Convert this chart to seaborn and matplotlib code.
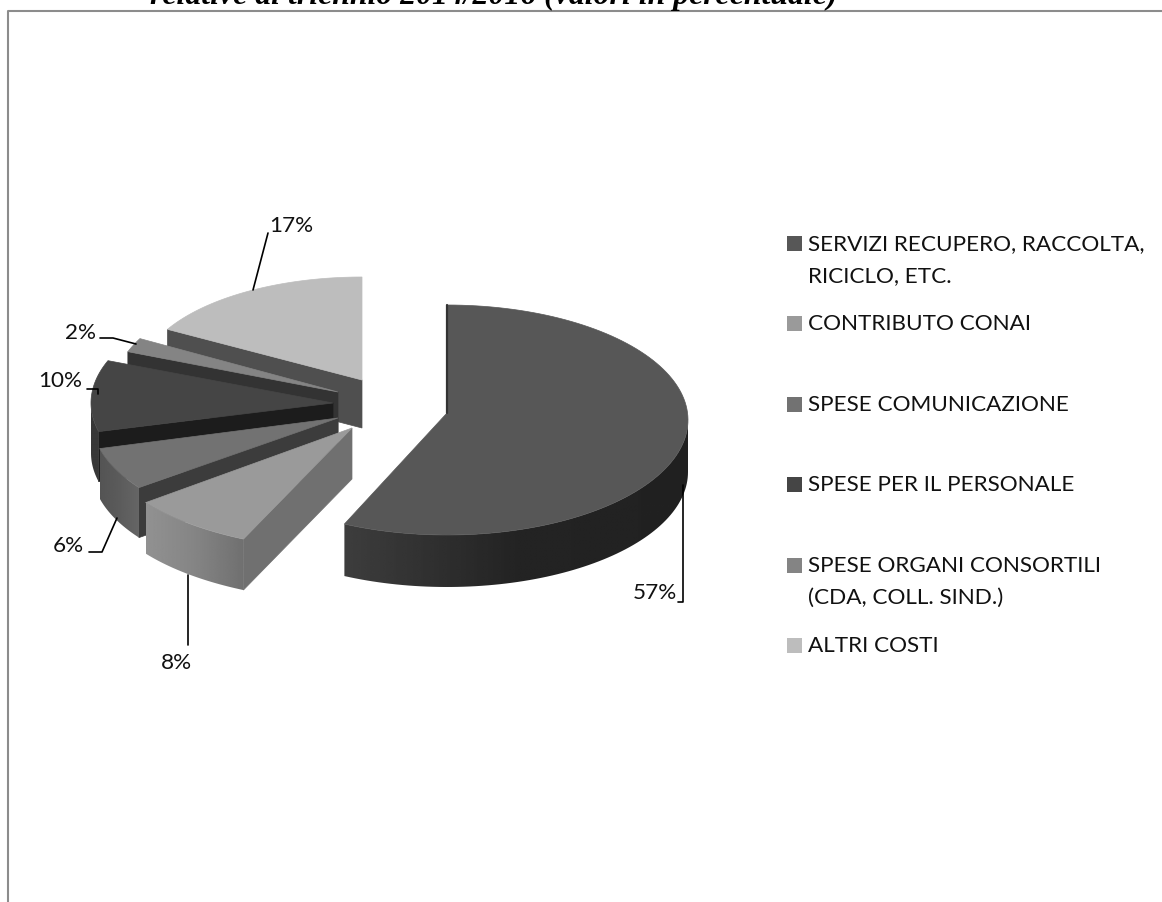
import numpy as np
import seaborn as sns
import matplotlib
matplotlib.use('Agg')
import matplotlib.pyplot as plt
from matplotlib.patches import Polygon, Rectangle

# values
categories = ['SERVIZI RECUPERO, RACCOLTA,\nRICICLO, ETC.', 'CONTRIBUTO CONAI', 'SPESE COMUNICAZIONE',
              'SPESE PER IL PERSONALE', 'SPESE ORGANI CONSORTILI\n(CDA, COLL. SIND.)', 'ALTRI COSTI']
values = [57, 8, 6, 10, 2, 17]
pct_labels = ['57%', '8%', '6%', '10%', '2%', '17%']

# look of the fake 3D pie, pixel units
apex = [(447, 413), (352, 428), (338, 418), (333, 403), (338, 392), (362, 380)]
radius_x = [241, 255, 246, 242, 226, 222]
radius_y = [115, 115, 115, 115, 115, 101]
rim_shift = [7, 7, 2, 0, 2, -2]  # ellipse centre sits a bit below the apex
depth = [52, 51, 50, 50, 50, 48]
top_grey = ['#575757', '#9a9a9a', '#727272', '#454545', '#848484', '#bdbdbd']
face_grey = ['#3a3a3a', '#707070', '#3c3c3c', '#1c1c1c', '#333333', '#4f4f4f']
side_stops = [(0.13, 0.14, 0.24), (0.44, 0.52, 0.57), (0.40, 0.36, 0.33),
              (0.22, 0.22, 0.22), (0.3, 0.3, 0.3), (0.3, 0.3, 0.3)]

sns.set_theme(style='white')
plt.rcParams['font.family'] = ['Lato', 'DejaVu Sans']

fig = plt.figure(figsize=(11.62, 9.02), dpi=100)
ax = fig.add_axes([0, 0, 1, 1])
ax.axis('off')


def rim(i, th):
    # th in degrees, clockwise from 12 o'clock
    th = np.radians(th)
    return apex[i][0] + radius_x[i] * np.sin(th), apex[i][1] + rim_shift[i] - radius_y[i] * np.cos(th)


# frame, only left and top show
ax.plot([8, 8, 1162], [902, 11, 11], color='#8c8c8c', lw=1.5, zorder=1)

# title, cut off by the top of the page
ax.text(150, 4, 'relative al triennio 2014/2016 (valori in percentuale)', family='Liberation Serif',
        style='italic', weight='bold', fontsize=22.9, color='black', va='baseline', ha='left', zorder=5)

edges = np.cumsum([0] + values) / sum(values) * 360
z = 2
# back slices first, main slice last
for i in [5, 4, 3, 2, 1, 0]:
    t0, t1 = edges[i], edges[i + 1]
    cx, cy = apex[i]
    d = depth[i]

    # radial wall on the leading edge
    x0, y0 = rim(i, t0)
    ax.add_patch(Polygon([(cx, cy), (x0, y0), (x0, y0 + d), (cx, cy + d)], fc=face_grey[i], ec=face_grey[i], lw=0.5, zorder=z))
    z += 1

    # outer wall, only the part facing the viewer, shaded left to right
    lo, hi = max(t0, 90), min(t1, 270)
    if hi > lo:
        xs, ys = rim(i, np.linspace(lo, hi, 80))
        wall = Polygon(list(zip(xs, ys)) + list(zip(xs[::-1], ys[::-1] + d)), fc='none', ec='none', zorder=z)
        ax.add_patch(wall)
        shade = np.interp(np.linspace(1, 0, 128), [0, 0.5, 1], side_stops[i]).reshape(1, -1)
        im = ax.imshow(shade, cmap='gray', vmin=0, vmax=1, aspect='auto', interpolation='bilinear',
                       extent=(xs.min(), xs.max(), ys.max() + d, ys.min()), zorder=z)
        im.set_clip_path(wall)
        z += 1

    # top face
    xs, ys = rim(i, np.linspace(t0, t1, 120))
    pts = [(cx, cy)] + list(zip(xs, ys))
    ax.add_patch(Polygon(pts, fc=top_grey[i], ec=top_grey[i], lw=0.5, zorder=z))
    z += 1

# thin dark wall at 12 o'clock of the main slice
ax.plot([apex[0][0], rim(0, 0)[0]], [apex[0][1], rim(0, 0)[1]], color='#333333', lw=1.6, zorder=z)
z += 1

# leader lines and percent labels
leaders = [[(683, 485), (683, 602), (678, 602)], [(188, 575), (188, 645)], [(117, 518), (102, 552), (89, 552)],
           [(98, 394), (98, 389), (87, 389)], [(136, 344), (113, 338), (100, 338)], [(253, 290), (268, 233)]]
label_pos = [(655, 593), (176, 663), (68, 546), (60, 381), (80, 333), (291, 226)]
for line, (tx, ty), lab in zip(leaders, label_pos, pct_labels):
    ax.plot(*zip(*line), color='black', lw=1.2, zorder=z)
    ax.text(tx, ty, lab, fontsize=16.2, color='#111111', ha='center', va='center', zorder=z)

# legend, spacing is uneven so it is placed by hand
legend_y = [243, 323, 404, 484, 565, 645]
for y, name, col in zip(legend_y, categories, top_grey):
    ax.add_patch(Rectangle((787, y - 7.5), 15, 15, fc=col, ec='none', zorder=z))
    for n, part in enumerate(name.split('\n')):
        ax.text(808, y + 1 + n * 32, part, fontsize=16.2, color='#111111', ha='left', va='center', zorder=z)

ax.set_xlim(0, 1162)
ax.set_ylim(902, 0)
fig.savefig('out.png', dpi=100, facecolor='white')
